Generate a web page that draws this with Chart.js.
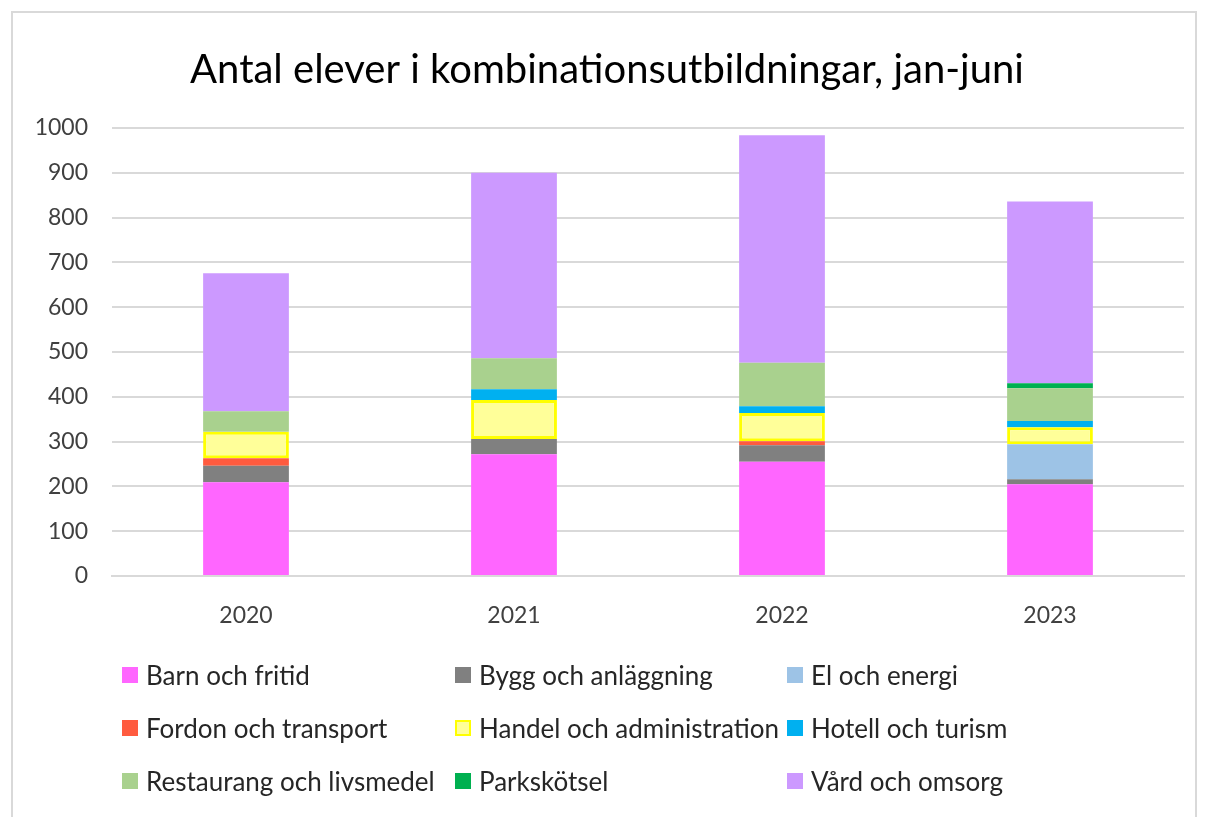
<!DOCTYPE html>
<html lang="sv">
<head>
<meta charset="utf-8">
<title>Antal elever i kombinationsutbildningar</title>
<script src="https://cdn.jsdelivr.net/npm/chart.js@4.4.0/dist/chart.umd.min.js"></script>
<style>
  html, body { margin: 0; padding: 0; background: #fff; }
  body { width: 1206px; height: 817px; position: relative; overflow: hidden; font-family: Lato, "Open Sans", sans-serif; }
  #ram { position: absolute; left: 11px; top: 11px; width: 1186px; height: 810px; border: 2px solid #d9d9d9; box-sizing: border-box; }
  #wrap { position: absolute; left: 0; top: 0; width: 1206px; height: 650px; }
  #legend { position: absolute; left: 0; top: 0; width: 1206px; height: 817px; pointer-events: none; }
  .item { position: absolute; display: flex; align-items: center; font-size: 26px; color: #262626; white-space: nowrap; height: 30px; }
  .box { width: 16px; height: 16px; margin-right: 8px; box-sizing: border-box; }
</style>
</head>
<body>
<div id="ram"></div>
<div id="wrap"><canvas id="chart"></canvas></div>
<div id="legend"></div>
<script>
// kategorier och antal elever per år (jan-juni)
const years = ['2020', '2021', '2022', '2023'];
const barnOchFritid = [209, 272, 255, 205];
const byggOchAnlaggning = [37, 34, 37, 11];
const elOchEnergi = [0, 0, 0, 78];
const fordonOchTransport = [17, 0, 9, 0];
const handelOchAdministration = [59, 87, 63, 38];
const hotellOchTurism = [0, 24, 15, 14];
const restaurangOchLivsmedel = [46, 69, 97, 73];
const parkskotsel = [0, 0, 0, 11];
const vardOchOmsorg = [308, 414, 508, 406];
const yTicks = [0, 100, 200, 300, 400, 500, 600, 700, 800, 900, 1000];

const serier = [
    { label: 'Barn och fritid', data: barnOchFritid, color: '#ff66ff' },
    { label: 'Bygg och anläggning', data: byggOchAnlaggning, color: '#808080' },
    { label: 'El och energi', data: elOchEnergi, color: '#9dc3e6' },
    { label: 'Fordon och transport', data: fordonOchTransport, color: '#ff5b3f' },
    { label: 'Handel och administration', data: handelOchAdministration, color: '#ffff99', border: '#ffff00' },
    { label: 'Hotell och turism', data: hotellOchTurism, color: '#00b0f0' },
    { label: 'Restaurang och livsmedel', data: restaurangOchLivsmedel, color: '#a9d18e' },
    { label: 'Parkskötsel', data: parkskotsel, color: '#00b050' },
    { label: 'Vård och omsorg', data: vardOchOmsorg, color: '#cc99ff' }
];

const datasets = serier.map(s => ({
    label: s.label,
    data: s.data,
    backgroundColor: s.color,
    borderColor: s.border || s.color,
    borderWidth: s.border ? 3 : 0,
    borderSkipped: false,
    barPercentage: 0.32,
    categoryPercentage: 1.0
}));

// legenden i tre kolumner, byggd från datasetten
function ritaLegend(chart) {
    const el = document.getElementById('legend');
    el.innerHTML = '';
    const kolumner = [122, 455, 787];
    const rader = [675, 728, 781];
    chart.data.datasets.forEach((ds, i) => {
        const div = document.createElement('div');
        div.className = 'item';
        div.style.left = kolumner[i % 3] + 'px';
        div.style.top = (rader[Math.floor(i / 3)] - 15) + 'px';
        const box = document.createElement('span');
        box.className = 'box';
        box.style.background = ds.backgroundColor;
        if (ds.borderWidth) box.style.border = '2px solid ' + ds.borderColor;
        div.appendChild(box);
        div.appendChild(document.createTextNode(ds.label));
        el.appendChild(div);
    });
}

new Chart(document.getElementById('chart'), {
    type: 'bar',
    data: { labels: years, datasets: datasets },
    options: {
        responsive: true,
        maintainAspectRatio: false,
        animation: false,
        layout: { padding: { left: 30, right: 22, top: 0, bottom: 0 } },
        plugins: {
            legend: { display: false },
            tooltip: { enabled: false },
            title: {
                display: true,
                text: 'Antal elever i kombinationsutbildningar, jan-juni',
                color: '#000',
                font: { family: 'Lato', size: 40, weight: 'normal' },
                padding: { top: 46, bottom: 34 }
            }
        },
        scales: {
            x: {
                stacked: true,
                grid: { display: false, drawTicks: false },
                border: { color: '#d9d9d9', width: 2 },
                ticks: { color: '#404040', font: { family: 'Lato', size: 23 }, padding: 26 },
                afterFit: s => { s.height = 74; }
            },
            y: {
                stacked: true,
                min: 0,
                max: 1000,
                afterBuildTicks: s => { s.ticks = yTicks.map(v => ({ value: v })); },
                grid: { color: '#d9d9d9', lineWidth: 2, drawTicks: false },
                border: { display: false },
                ticks: {
                    color: '#404040',
                    font: { family: 'Lato', size: 23 },
                    padding: 24,
                    callback: v => String(v)
                },
                afterFit: s => { s.width = 82; }
            }
        }
    },
    plugins: [{ id: 'htmlLegend', afterUpdate: ritaLegend }]
});
</script>
</body>
</html>
